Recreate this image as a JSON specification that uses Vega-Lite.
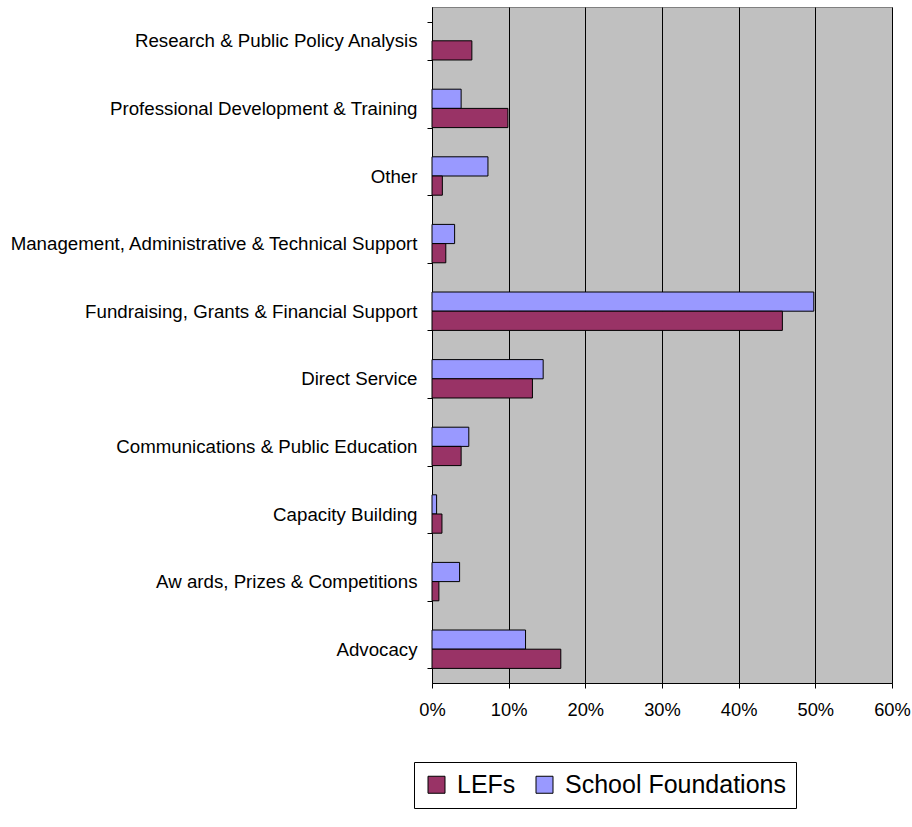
{
  "$schema": "https://vega.github.io/schema/vega-lite/v6.json",
  "autosize": {"type": "none"},
  "padding": {"left": 432, "top": 7, "right": 20, "bottom": 144},
  "width": 460,
  "height": 676,
  "background": "white",
  "config": {
    "font": "Liberation Sans",
    "view": {"fill": "#C0C0C0", "stroke": "#808080", "strokeWidth": 1}
  },
  "data": {
    "values": [
      {"category": "Research & Public Policy Analysis", "series": "LEFs", "value": 5.2},
      {"category": "Professional Development & Training", "series": "School Foundations", "value": 3.8},
      {"category": "Professional Development & Training", "series": "LEFs", "value": 9.9},
      {"category": "Other", "series": "School Foundations", "value": 7.3},
      {"category": "Other", "series": "LEFs", "value": 1.35},
      {"category": "Management, Administrative & Technical Support", "series": "School Foundations", "value": 2.95},
      {"category": "Management, Administrative & Technical Support", "series": "LEFs", "value": 1.8},
      {"category": "Fundraising, Grants & Financial Support", "series": "School Foundations", "value": 49.8},
      {"category": "Fundraising, Grants & Financial Support", "series": "LEFs", "value": 45.7},
      {"category": "Direct Service", "series": "School Foundations", "value": 14.5},
      {"category": "Direct Service", "series": "LEFs", "value": 13.1},
      {"category": "Communications & Public Education", "series": "School Foundations", "value": 4.8},
      {"category": "Communications & Public Education", "series": "LEFs", "value": 3.8},
      {"category": "Capacity Building", "series": "School Foundations", "value": 0.6},
      {"category": "Capacity Building", "series": "LEFs", "value": 1.3},
      {"category": "Aw ards, Prizes & Competitions", "series": "School Foundations", "value": 3.6},
      {"category": "Aw ards, Prizes & Competitions", "series": "LEFs", "value": 0.9},
      {"category": "Advocacy", "series": "School Foundations", "value": 12.2},
      {"category": "Advocacy", "series": "LEFs", "value": 16.8}
    ]
  },
  "mark": {"type": "bar", "stroke": "black", "strokeWidth": 1},
  "encoding": {
    "y": {
      "field": "category",
      "type": "nominal",
      "sort": [
        "Research & Public Policy Analysis",
        "Professional Development & Training",
        "Other",
        "Management, Administrative & Technical Support",
        "Fundraising, Grants & Financial Support",
        "Direct Service",
        "Communications & Public Education",
        "Capacity Building",
        "Aw ards, Prizes & Competitions",
        "Advocacy"
      ],
      "scale": {"paddingInner": 0.432, "paddingOuter": 0.216},
      "axis": {
        "title": null,
        "tickBand": "extent",
        "tickSize": 5,
        "tickColor": "black",
        "domainColor": "black",
        "labelPadding": 10,
        "labelFontSize": 18.7,
        "labelColor": "black",
        "labelLimit": 0,
        "grid": false
      }
    },
    "x": {
      "field": "value",
      "type": "quantitative",
      "scale": {"domain": [0, 60], "nice": false},
      "axis": {
        "title": null,
        "values": [0, 10, 20, 30, 40, 50, 60],
        "labelExpr": "datum.value + '%'",
        "labelFlush": false,
        "labelOverlap": false,
        "grid": true,
        "gridColor": "black",
        "gridOpacity": 1,
        "tickSize": 5,
        "tickColor": "black",
        "domainColor": "black",
        "labelPadding": 13,
        "labelFontSize": 18.3,
        "labelColor": "black"
      }
    },
    "yOffset": {
      "field": "series",
      "type": "nominal",
      "sort": ["School Foundations", "LEFs"],
      "scale": {"paddingInner": 0, "paddingOuter": 0}
    },
    "color": {
      "field": "series",
      "type": "nominal",
      "scale": {"domain": ["LEFs", "School Foundations"], "range": ["#993366", "#9999FF"]},
      "legend": {
        "title": null,
        "orient": "none",
        "legendX": -18,
        "legendY": 755,
        "direction": "horizontal",
        "symbolType": "square",
        "symbolSize": 289,
        "symbolStrokeColor": "black",
        "symbolStrokeWidth": 1,
        "symbolOpacity": 1,
        "labelFontSize": 25,
        "labelLimit": 0,
        "labelColor": "black",
        "labelOffset": 8,
        "columnPadding": 16,
        "padding": 10,
        "strokeColor": "black",
        "fillColor": "white"
      }
    }
  }
}
